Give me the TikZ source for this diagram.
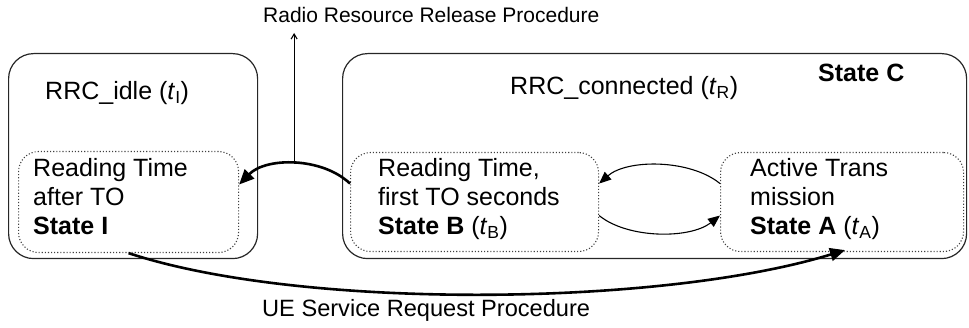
\documentclass[tikz,border=0pt]{standalone}
\usepackage{fontspec}
\setmainfont{Liberation Sans}
\usetikzlibrary{arrows.meta}
\begin{document}
\begin{tikzpicture}[x=1pt,y=-1pt,
  outerbox/.style={draw=black!85, line width=1.2pt, rounded corners=25pt, inner sep=0pt, anchor=north west},
  innerbox/.style={draw=black!75, line width=1.1pt, dotted, rounded corners=20pt, inner sep=0pt, anchor=north west},
  txt/.style={font=\fontsize{25}{29}\selectfont, inner sep=0pt, align=left, anchor=base west},
  heavyarrow/.style={line width=2.6pt, -{Triangle[length=15pt,width=13pt]}},
  lightarrow/.style={line width=1.1pt, -{Triangle[length=12pt,width=10pt]}},
]
\useasboundingbox (0,0) rectangle (969,328);

% outer boxes
\node[outerbox, minimum width=249pt, minimum height=205pt] (idle) at (8,53) {};
\node[outerbox, minimum width=624pt, minimum height=205pt] (conn) at (342,53) {};

% inner boxes
\node[innerbox, minimum width=220pt, minimum height=101pt] (I) at (18,151) {};
\node[innerbox, minimum width=248pt, minimum height=99pt] (B) at (350,152) {};
\node[innerbox, minimum width=243pt, minimum height=99pt] (A) at (720,152) {};

% titles
\node[txt] (idlelbl) at (45,100) {RRC\_idle (\textit{t}\textsubscript{I})};
\node[txt] (connlbl) at (510,95) {RRC\_connected (\textit{t}\textsubscript{R})};
\node[txt] (clbl) at (818,82) {\textbf{State C}};

% inner texts (base = last line)
\node[txt] (Itxt) at (33,235) {Reading Time\\after TO\\\textbf{State I}};
\node[txt] (Btxt) at (378,235) {Reading Time,\\first TO seconds\\\textbf{State B} (\textit{t}\textsubscript{B})};
\node[txt] (Atxt) at (750,235) {Active Trans\\mission\\\textbf{State A} (\textit{t}\textsubscript{A})};

% procedure labels
\node[inner sep=0pt, anchor=base west, font=\fontsize{21}{24}\selectfont] (rel) at (263,23) {Radio Resource Release Procedure};
\node[inner sep=0pt, anchor=base west, font=\fontsize{23.6}{28}\selectfont] (req) at (262,317) {UE Service Request Procedure};

% B -> I
\draw[heavyarrow] ([yshift=18.5pt]B.west) .. controls (322,157) and (266,157) .. coordinate[pos=0.5] (peak) ([yshift=17.5pt]I.east);
\coordinate (reltop) at (peak |- 0,33);
\draw[line width=1.1pt, -{Straight Barb[length=5pt,width=6pt]}] (peak) -- (reltop);

% A <-> B
\draw[lightarrow] ([yshift=18.5pt]A.west) .. controls (690,159) and (627,159) .. ([yshift=18.5pt]B.east);
\draw[lightarrow] ([yshift=-13.5pt]B.east) .. controls (628,239) and (690,239) .. ([yshift=-13.5pt]A.west);

% I -> A
\draw[heavyarrow] (I.south) .. controls (300,310) and (660,307) .. ([xshift=3pt,yshift=2pt]A.south);
\end{tikzpicture}
\end{document}
